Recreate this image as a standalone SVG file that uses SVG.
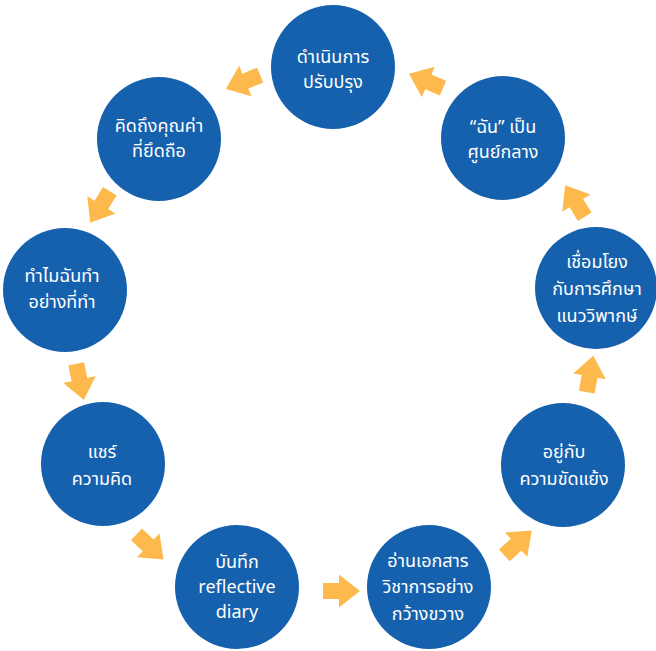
<svg xmlns="http://www.w3.org/2000/svg" width="656" height="651" viewBox="0 0 656 651">
<style>
.n{fill:#1561AD}
.t{fill:#ffffff;font-family:"Noto Sans Thai","Noto Sans",sans-serif;font-size:18px;text-anchor:middle}
.a{fill:#FDB94C}
</style>
<defs>
<path id="arr" d="M-18.5,-8 L-2.5,-8 L-2.5,-16.5 L18.5,0 L-2.5,16.5 L-2.5,8 L-18.5,8 Z"/>
</defs>
<rect width="656" height="651" fill="#ffffff"/>
<g id="connectors" class="a">
<use href="#arr" transform="translate(243,82) rotate(158)"/>
<use href="#arr" transform="translate(426,81) rotate(-157)"/>
<use href="#arr" transform="translate(575,201) rotate(-122)"/>
<use href="#arr" transform="translate(590,374) rotate(-80)"/>
<use href="#arr" transform="translate(518,543) rotate(-42)"/>
<use href="#arr" transform="translate(341.5,591) rotate(0)"/>
<use href="#arr" transform="translate(150,547) rotate(43)"/>
<use href="#arr" transform="translate(80,382) rotate(78)"/>
<use href="#arr" transform="translate(100,207) rotate(122)"/>
</g>
<g id="n1"><circle class="n" cx="333" cy="67" r="62"/><text class="t" x="333" y="63">ดำเนินการ</text><text class="t" x="333" y="88">ปรับปรุง</text></g>
<g id="n2"><circle class="n" cx="159" cy="139" r="62"/><text class="t" x="159" y="132">คิดถึงคุณค่า</text><text class="t" x="159" y="157">ที่ยึดถือ</text></g>
<g id="n3"><circle class="n" cx="65" cy="290" r="62"/><text class="t" x="62" y="282">ทำไมฉันทำ</text><text class="t" x="62" y="308">อย่างที่ทำ</text></g>
<g id="n4"><circle class="n" cx="103" cy="464" r="62"/><text class="t" x="102" y="458">แชร์</text><text class="t" x="102" y="485">ความคิด</text></g>
<g id="n5"><circle class="n" cx="237" cy="587" r="62"/><text class="t" x="237" y="568">บันทึก</text><text class="t" x="237" y="593">reflective</text><text class="t" x="237" y="618">diary</text></g>
<g id="n6"><circle class="n" cx="429" cy="587" r="62"/><text class="t" x="428" y="567">อ่านเอกสาร</text><text class="t" x="428" y="593">วิชาการอย่าง</text><text class="t" x="428" y="620">กว้างขวาง</text></g>
<g id="n7"><circle class="n" cx="563" cy="465" r="62"/><text class="t" x="564" y="458">อยู่กับ</text><text class="t" x="564" y="485">ความขัดแย้ง</text></g>
<g id="n8"><circle class="n" cx="596" cy="288" r="61"/><text class="t" x="597" y="268">เชื่อมโยง</text><text class="t" x="597" y="295">กับการศึกษา</text><text class="t" x="597" y="322">แนววิพากษ์</text></g>
<g id="n9"><circle class="n" cx="503" cy="138" r="62"/><text class="t" x="503" y="133">“ฉัน” เป็น</text><text class="t" x="503" y="158">ศูนย์กลาง</text></g>
</svg>
